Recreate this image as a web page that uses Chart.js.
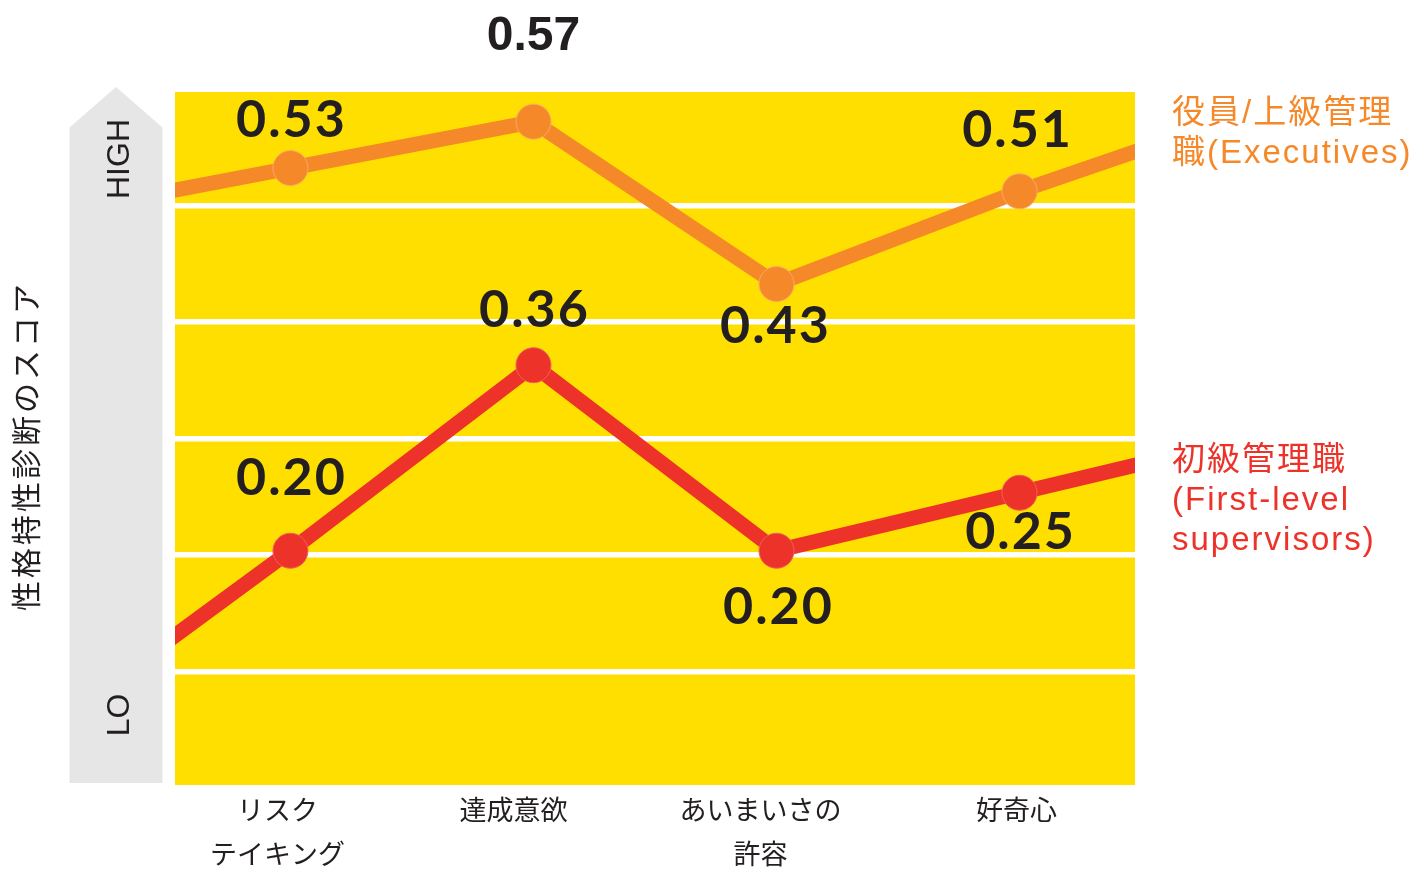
<!DOCTYPE html>
<html><head><meta charset="utf-8">
<script src="https://cdn.jsdelivr.net/npm/chart.js@4.4.0/dist/chart.umd.min.js"></script>
<style>html,body{margin:0;padding:0;background:#fff;overflow:hidden}#wrap{width:1426px;height:874px;position:relative}</style>
</head><body><div id="wrap"><canvas id="c" width="1426" height="874"></canvas></div>
<script>
// ---- data ----
const categories = [['リスク', 'テイキング'], ['達成意欲'], ['あいまいさの', '許容'], ['好奇心']];
const executives = [0.53, 0.57, 0.43, 0.51];
const supervisors = [0.20, 0.36, 0.20, 0.25];
const executivesEdges = [0.51, 0.546];   // where the line meets the plot edges
const supervisorsEdges = [0.123, 0.275];
const executivesLegend = ['役員/上級管理', '職(Executives)'];
const supervisorsLegend = ['初級管理職', '(First-level', 'supervisors)'];
const axisTitle = '性格特性診断のスコア';
const highLabel = 'HIGH';
const lowLabel = 'LO';

// ---- style ----
const YELLOW = '#FFDF00', ORANGE = '#F5892A', RED = '#EC3229', INK = '#231F20', GREY = '#E6E6E6';
const NUM_FONT = 'bold 52px Lato, "Open Sans", sans-serif';
const execLabelStyle = [{dx:0,dy:-31},{dx:0,dy:-72,font:'bold 48px "Liberation Sans", Arial, sans-serif',ls:'0px'},{dx:-2,dy:59},{dx:-3,dy:-44}];
const supLabelStyle = [{dx:0,dy:-56},{dx:0,dy:-38},{dx:1,dy:73},{dx:0,dy:56}];
const tickNudgePx = [-13, -20, -16, -3];
const PX_PER_X = 243;

function series(vals, edges) {
  const pts = [{x: 0, y: edges[0]}];
  vals.forEach((v, i) => pts.push({x: i + 0.5, y: v}));
  pts.push({x: vals.length, y: edges[1]});
  return pts;
}
const radii = [0, 17.5, 17.5, 17.5, 17.5, 0];

const decor = {
  id: 'decor',
  beforeDraw(chart) {
    const ctx = chart.ctx, a = chart.chartArea;
    ctx.save();
    ctx.fillStyle = '#fff';
    ctx.fillRect(0, 0, chart.width, chart.height);
    // grey arrow
    ctx.fillStyle = GREY;
    ctx.beginPath();
    ctx.moveTo(69.5, 783);
    ctx.lineTo(69.5, 127.5);
    ctx.lineTo(116, 87);
    ctx.lineTo(162.5, 127.5);
    ctx.lineTo(162.5, 783);
    ctx.closePath();
    ctx.fill();
    // yellow plot area
    ctx.fillStyle = YELLOW;
    ctx.fillRect(a.left, a.top, a.right - a.left, a.bottom - a.top);
    ctx.restore();
  },
  afterDatasetsDraw(chart) {
    const ctx = chart.ctx;
    ctx.save();
    ctx.textAlign = 'center';
    ctx.textBaseline = 'alphabetic';
    ctx.fillStyle = INK;
    [[0, executives, execLabelStyle], [1, supervisors, supLabelStyle]].forEach(([di, vals, st]) => {
      const meta = chart.getDatasetMeta(di);
      vals.forEach((v, i) => {
        const p = meta.data[i + 1];
        const s = st[i];
        ctx.font = s.font || NUM_FONT;
        ctx.letterSpacing = s.ls || '2px';
        ctx.fillText(v.toFixed(2), p.x + s.dx + (s.ls ? 0 : 1), p.y + s.dy);
      });
    });
    ctx.restore();
  },
  afterDraw(chart) {
    const ctx = chart.ctx;
    ctx.save();
    // legends on the right
    ctx.textAlign = 'left';
    ctx.textBaseline = 'alphabetic';
    ctx.font = '33px "Liberation Sans", Arial, "Noto Sans CJK JP", sans-serif';
    ctx.letterSpacing = '2px';
    ctx.fillStyle = ORANGE;
    executivesLegend.forEach((t, i) => ctx.fillText(t, 1172, 123 + i * 40));
    ctx.fillStyle = RED;
    supervisorsLegend.forEach((t, i) => ctx.fillText(t, 1172, 470 + i * 40));
    // y axis title
    ctx.fillStyle = INK;
    ctx.textAlign = 'center';
    ctx.textBaseline = 'middle';
    ctx.save();
    ctx.translate(26, 446);
    ctx.rotate(-Math.PI / 2);
    ctx.font = '30px "Noto Sans CJK JP", sans-serif';
    ctx.letterSpacing = '3px';
    ctx.fillText(axisTitle, 0, 0);
    ctx.restore();
    // HIGH / LO
    ctx.font = '32px "Liberation Sans", Arial, sans-serif';
    ctx.letterSpacing = '0px';
    [[highLabel, 159], [lowLabel, 715]].forEach(([t, y]) => {
      ctx.save();
      ctx.translate(120, y);
      ctx.rotate(-Math.PI / 2);
      ctx.fillText(t, 0, 0);
      ctx.restore();
    });
    ctx.restore();
  }
};

new Chart(document.getElementById('c'), {
  type: 'line',
  data: {
    datasets: [
      {data: series(executives, executivesEdges), borderColor: ORANGE, backgroundColor: ORANGE,
       borderWidth: 15, pointRadius: radii, pointBackgroundColor: ORANGE, pointBorderColor: '#F9A963',
       pointBorderWidth: 1, tension: 0, clip: 0, yAxisID: 'y'},
      {data: series(supervisors, supervisorsEdges), borderColor: RED, backgroundColor: RED,
       borderWidth: 15, pointRadius: radii, pointBackgroundColor: RED, pointBorderColor: '#F0605A',
       pointBorderWidth: 1, tension: 0, clip: 0, yAxisID: 'y'}
    ]
  },
  options: {
    responsive: false,
    animation: false,
    events: [],
    layout: {padding: {left: 175, right: 291, top: 92, bottom: 0}},
    plugins: {legend: {display: false}, tooltip: {enabled: false}},
    scales: {
      x: {
        type: 'linear', min: 0.025, max: 3.975,
        grid: {display: false, drawTicks: false}, border: {display: false},
        afterBuildTicks(s) { s.ticks = categories.map((c, i) => ({value: i + 0.5 + tickNudgePx[i] / PX_PER_X})); },
        afterFit(s) { s.height = 89; },
        ticks: {
          autoSkip: false, maxRotation: 0, padding: 3, color: INK,
          font: {family: '"Noto Sans CJK JP", sans-serif', size: 27, lineHeight: 44 / 27},
          callback: (v, i) => categories[i]
        }
      },
      y: {type: 'linear', min: -0.002, max: 0.5956, display: false},
      bands: {
        type: 'linear', position: 'right', min: 0.028, max: 5.976,
        afterBuildTicks(s) { s.ticks = [1, 2, 3, 4, 5].map(v => ({value: v})); },
        afterFit(s) { s.width = 0; },
        ticks: {display: false},
        border: {display: false},
        grid: {color: '#fff', lineWidth: 5.5, drawTicks: false}
      }
    }
  },
  plugins: [decor]
});
</script></body></html>
